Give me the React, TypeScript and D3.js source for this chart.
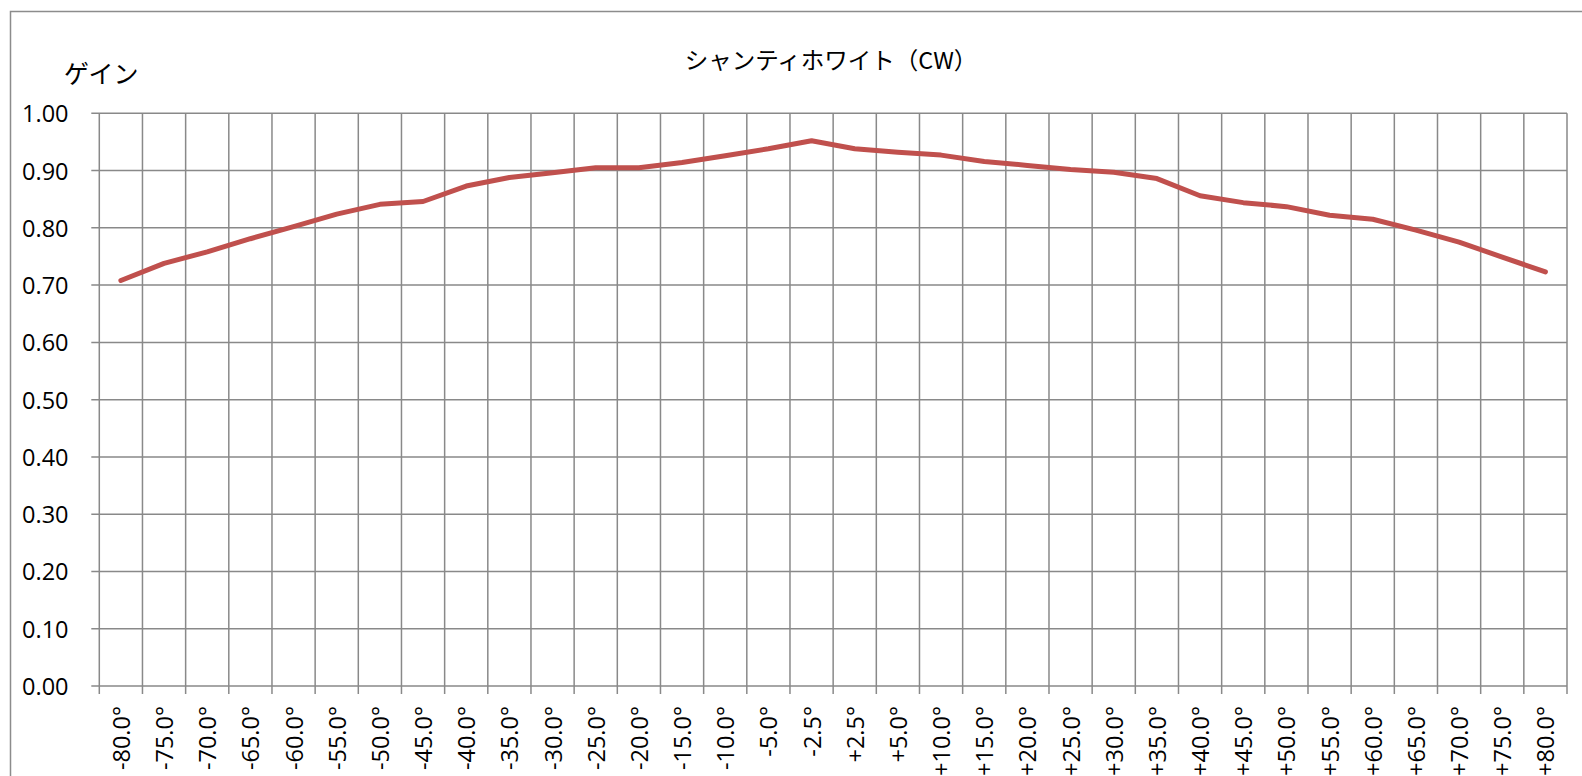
import React from "react";
import * as d3 from "d3";

// angle categories (x axis) and measured gain
const angles = [
  "-80.0°", "-75.0°", "-70.0°", "-65.0°", "-60.0°", "-55.0°", "-50.0°", "-45.0°",
  "-40.0°", "-35.0°", "-30.0°", "-25.0°", "-20.0°", "-15.0°", "-10.0°", "-5.0°",
  "-2.5°", "+2.5°", "+5.0°", "+10.0°", "+15.0°", "+20.0°", "+25.0°", "+30.0°",
  "+35.0°", "+40.0°", "+45.0°", "+50.0°", "+55.0°", "+60.0°", "+65.0°", "+70.0°",
  "+75.0°", "+80.0°",
];
const gain = [
  0.708, 0.738, 0.758, 0.781, 0.802, 0.824, 0.841, 0.846,
  0.873, 0.888, 0.896, 0.905, 0.905, 0.914, 0.926, 0.938,
  0.952, 0.938, 0.932, 0.927, 0.916, 0.909, 0.902, 0.897,
  0.886, 0.856, 0.844, 0.837, 0.822, 0.815, 0.796, 0.775,
  0.749, 0.723,
];
const yTicks = [0, 0.1, 0.2, 0.3, 0.4, 0.5, 0.6, 0.7, 0.8, 0.9, 1.0];

const title = "シャンティホワイト（CW）";
const yTitle = "ゲイン";

const W = 1582;
const H = 776;
const plot = { left: 99.3, right: 1567, top: 113.3, bottom: 686 };
const grid = "#898989";
const latin = "'Open Sans', 'Noto Sans', sans-serif";
const jp = "'Noto Sans CJK JP', sans-serif";

export default function App() {
  const x = d3.scaleBand<string>().domain(angles).range([plot.left, plot.right]).padding(0);
  const y = d3.scaleLinear().domain([0, 1]).range([plot.bottom, plot.top]);

  const line = d3
    .line<number>()
    .x((_, i) => (x(angles[i]) ?? 0) + x.bandwidth() / 2)
    .y((d) => y(d));

  // boundaries between categories (gridlines + ticks)
  const bounds = angles.map((a) => x(a) ?? 0).concat([plot.right]);

  return (
    <svg
      width={W}
      height={H}
      style={{ position: "absolute", left: 0, top: 0, background: "#fff" }}
    >
      <rect x={0} y={0} width={W} height={H} fill="#fff" />
      {/* chart border (right/bottom edges run off the picture) */}
      <rect x={10.5} y={11.5} width={W + 20} height={H + 20} fill="none" stroke="#8c8c8c" strokeWidth={1.5} />

      {/* horizontal gridlines + y ticks */}
      {yTicks.map((t) => (
        <g key={t}>
          <line x1={plot.left - 8} x2={plot.right} y1={y(t)} y2={y(t)} stroke={grid} strokeWidth={1.5} />
          <text
            x={68.5}
            y={y(t)}
            textAnchor="end"
            dominantBaseline="central"
            fontFamily={latin}
            fontSize={23.5}
            fill="#000"
          >
            {t.toFixed(2)}
          </text>
        </g>
      ))}

      {/* vertical gridlines + x ticks */}
      {bounds.map((bx, i) => (
        <line key={i} x1={bx} x2={bx} y1={plot.top} y2={plot.bottom + 8} stroke={grid} strokeWidth={1.5} />
      ))}

      {/* x labels, rotated */}
      {angles.map((a) => {
        const cx = (x(a) ?? 0) + x.bandwidth() / 2;
        return (
          <text
            key={a}
            transform={`translate(${cx},706) rotate(-90)`}
            textAnchor="end"
            dominantBaseline="central"
            fontFamily={latin}
            fontSize={23.5}
            fill="#000"
          >
            {a}
          </text>
        );
      })}

      {/* data line */}
      <path
        d={line(gain) ?? ""}
        fill="none"
        stroke="#C0504D"
        strokeWidth={5}
        strokeLinejoin="round"
        strokeLinecap="round"
      />

      {/* titles */}
      <text x={831} y={59} textAnchor="middle" dominantBaseline="central" fontFamily={jp} fontSize={23.5} fill="#000">
        {title}
      </text>
      <text x={64} y={72} dominantBaseline="central" fontFamily={jp} fontSize={25} fill="#000">
        {yTitle}
      </text>
    </svg>
  );
}
